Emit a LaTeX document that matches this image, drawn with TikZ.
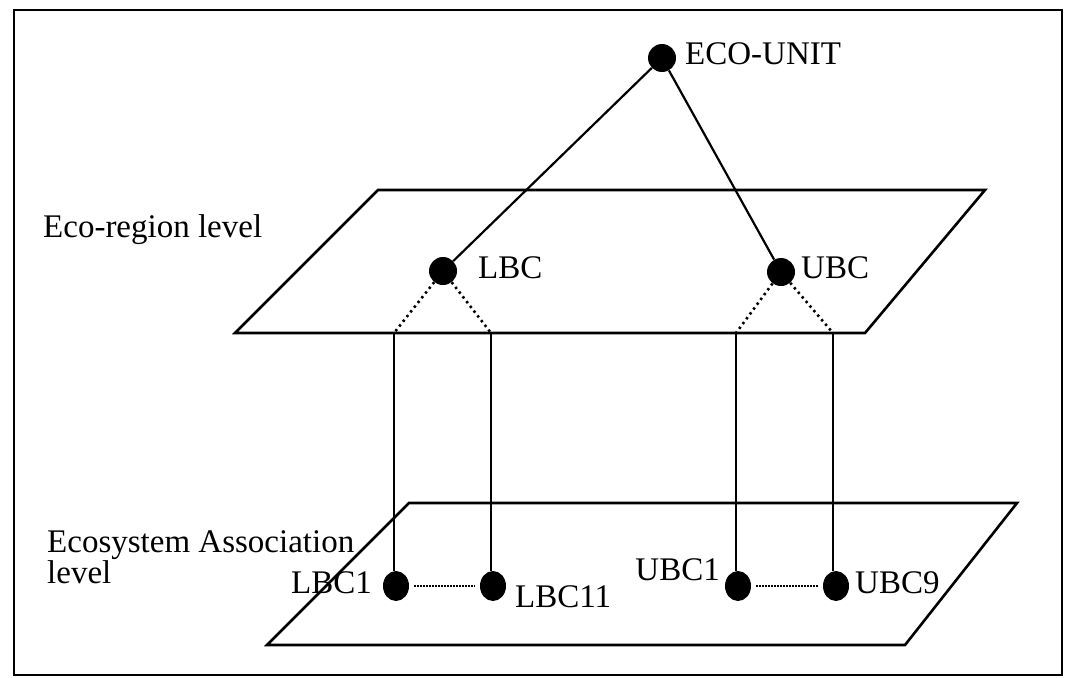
\documentclass[tikz,border=0pt]{standalone}
\usepackage{fontspec}
\setmainfont{Liberation Serif}
\usetikzlibrary{shapes.geometric}
\begin{document}
\begin{tikzpicture}[x=1pt,y=-1pt,
  plane/.style={draw=black,line width=2.6pt,line join=miter},
  dotnode/.style={circle,fill=black,inner sep=0pt,minimum size=28pt},
  lowdot/.style={ellipse,fill=black,inner sep=0pt,minimum width=26pt,minimum height=30pt},
  lbl/.style={font=\fontsize{33}{38}\selectfont,inner sep=0pt},
  solidline/.style={line width=2.2pt},
  dotline/.style={line width=2.6pt,dash pattern=on 2.4pt off 3.6pt},
  fineline/.style={line width=1.4pt,dash pattern=on 1.4pt off 1.6pt}]
\useasboundingbox (0,0) rectangle (1065,677);
\draw[line width=2.4pt] (14,10) rectangle (1062,675);
% planes
\draw[plane] (378,190) -- (985,190) -- (865,333) -- (235,333) -- cycle;
\draw[plane] (409,503) -- (1017,503) -- (905,645) -- (267,645) -- cycle;
% dots
\node[dotnode] (eco) at (662,58) {};
\node[dotnode] (lbc) at (443,271) {};
\node[dotnode] (ubc) at (781,272) {};
\node[lowdot] (lbc1) at (396,586) {};
\node[lowdot] (lbc11) at (493,586) {};
\node[lowdot] (ubc1) at (738,586) {};
\node[lowdot] (ubc9) at (836,586) {};
% junction points on the upper plane
\coordinate (pa) at (394,333);
\coordinate (pb) at (491,333);
\coordinate (pc) at (736,333);
\coordinate (pd) at (833,333);
% connectors
\draw[solidline] (eco) -- (lbc);
\draw[solidline] (eco) -- (ubc);
\draw[dotline] (lbc) -- (pa);
\draw[dotline] (lbc) -- (pb);
\draw[dotline] (ubc) -- (pc);
\draw[dotline] (ubc) -- (pd);
\draw[solidline] (pa) -- (pa |- lbc1.north);
\draw[solidline] (pb) -- (pb |- lbc11.north);
\draw[solidline] (pc) -- (pc |- ubc1.north);
\draw[solidline] (pd) -- (pd |- ubc9.north);
\draw[fineline] ([xshift=5pt]lbc1.east) -- ([xshift=-5pt]lbc11.west);
\draw[fineline] ([xshift=5pt]ubc1.east) -- ([xshift=-5pt]ubc9.west);
% labels
\node[lbl,anchor=base west] (teco) at (685,65) {ECO-UNIT};
\node[lbl,anchor=base west] (tlbc) at (478,278) {LBC};
\node[lbl,anchor=base west] (tubc) at (801,278) {UBC};
\node[lbl,anchor=base west] (treg) at (43,237) {Eco-region level};
\node[lbl,anchor=base west] (tesa) at (47,552) {Ecosystem Association};
\node[lbl,anchor=base west] (tlev) at (47,583) {level};
\node[lbl,anchor=base east] (tlbc1) at (372,593) {LBC1};
\node[lbl,anchor=base west] (tlbc11) at (515,607) {LBC11};
\node[lbl,anchor=base east] (tubc1) at (720,580) {UBC1};
\node[lbl,anchor=base west] (tubc9) at (855,593) {UBC9};
\end{tikzpicture}
\end{document}
